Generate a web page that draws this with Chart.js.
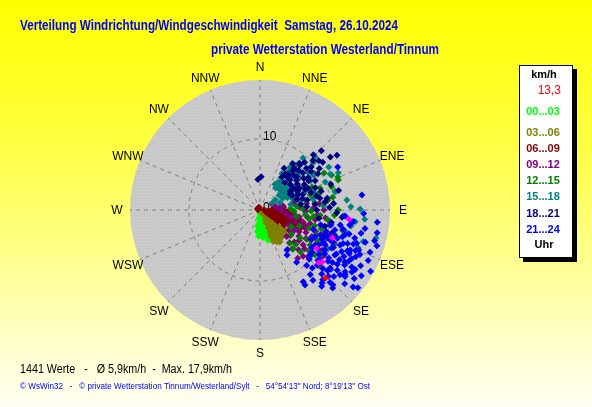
<!DOCTYPE html>
<html>
<head>
<meta charset="utf-8">
<title>Windrichtung</title>
<script src="https://cdn.jsdelivr.net/npm/chart.js@4.4.1/dist/chart.umd.min.js"></script>
<style>
  body { margin: 0; background: #fffff4; }
  canvas { display: block; }
</style>
</head>
<body>
<canvas id="myChart" width="592" height="407"></canvas>
<script>
// compass and scale
const directions = ['N', 'NNE', 'NE', 'ENE', 'E', 'ESE', 'SE', 'SSE', 'S', 'SSW', 'SW', 'WSW', 'W', 'WNW', 'NW', 'NNW'];
const ringValues = [0, 10];
const maxSpeed = 18.3;

const titleText = 'Verteilung Windrichtung/Windgeschwindigkeit  Samstag, 26.10.2024';
const stationText = 'private Wetterstation Westerland/Tinnum';
const footerText = '1441 Werte   -   \u00d8 5,9km/h  -  Max. 17,9km/h';
const copyText = '\u00a9 WsWin32   -   \u00a9 private Wetterstation Tinnum/Westerland/Sylt   -   54\u00b054\'13" Nord; 8\u00b019\'13" Ost';

const timeLabels = ['00...03', '03...06', '06...09', '09...12', '12...15', '15...18', '18...21', '21...24'];
const seriesColors = ['#00ff00', '#808000', '#800000', '#800080', '#008000', '#008080', '#000080', '#0000ff'];

// [richtung in grad, km/h]
const h00 = [[178,0.4],[176,0.9],[181,1.3],[184,1.7],[179,2.1],[186,2.4],[182,2.8],[185,3.1],[180,3.4],[183,3.7],
  [177,3.2],[175,2.6],[172,1.9],[170,2.7],[168,3.3],[166,3.8],[164,4.1],[161,4.4],[158,4.6],[160,4.0],
  [163,3.5],[167,2.9],[169,2.2],[173,1.4],[171,3.6],[165,4.4],[159,4.2],[174,3.9],[187,3.0],[188,2.2],
  [185,1.1],[162,3.0],[157,4.5],[176,0.5],[170,1.0],[160,3.7],[180,0.6],[183,2.0],[178,2.5],[176,3.5]];
const h03 = [[150,0.4],[145,0.8],[140,1.2],[136,1.5],[152,1.6],[148,2.0],[143,2.3],[138,2.6],[132,2.9],[155,2.7],
  [150,3.0],[146,3.3],[141,3.6],[135,3.9],[130,4.1],[128,4.6],[133,4.8],[137,4.4],[142,4.9],[146,5.0],
  [150,4.7],[154,4.5],[157,4.2],[153,3.8],[156,3.4],[158,3.9],[149,4.1],[144,4.3],[139,3.2],[134,3.4],
  [131,3.7],[129,4.3],[147,2.6],[151,2.2],[155,2.0],[142,1.8],[137,2.0],[145,3.9],[140,4.6],[135,5.0],
  [152,5.1],[148,5.3],[157,4.8],[144,0.5],[133,1.1]];
const h06 = [[320,0.3],[300,0.4],[340,0.4],[280,0.3],[90,0.6],[100,0.8],[110,0.9],[95,1.2],[105,1.4],[115,1.3],
  [88,1.7],[98,1.9],[108,2.0],[118,1.8],[92,2.3],[102,2.5],[112,2.6],[121,2.4],[86,2.8],[96,3.0],
  [106,3.1],[116,3.2],[123,3.0],[90,3.4],[100,3.6],[110,3.7],[120,3.8],[94,3.9],[104,4.1],[114,4.3],
  [122,4.0],[98,4.5],[108,4.7],[117,4.8],[102,5.0],[111,5.2],[106,5.5],[113,5.8],[108,6.1],[110,6.5],
  [112,6.9],[106,6.3],[115,6.2],[109,7.0],[104,5.8],[118,5.3],[82,2.9],[84,3.3]];
const h09 = [[65,1.9],[75,2.2],[85,2.6],[70,3.0],[80,3.3],[92,3.1],[98,3.8],[104,4.4],[96,4.8],[108,5.2],
  [100,5.6],[112,5.9],[118,4.6],[125,5.0],[130,5.6],[135,5.3],[138,6.2],[133,6.6],[128,7.0],[140,7.1],
  [136,7.8],[131,8.3],[137,8.9],[134,9.4],[127,9.0],[122,7.6],[116,7.2],[110,6.8],[105,7.3],[100,7.9],
  [95,8.1],[88,7.5],[84,8.4],[90,9.0],[97,9.3],[104,8.8],[110,9.6],[113,10.2],[108,10.8],[118,9.9],
  [123,10.4],[120,8.4],[126,11.0],[114,11.4],[102,10.0],[92,6.4],[86,5.6],[78,4.8],[72,5.2],[82,6.6],
  [145,6.8],[142,8.6],[119,6.3],[124,6.6],[101,4.6],[115,6.0],[121,5.6],[106,6.2],[99,6.8],[129,7.8],
  [117,8.2],[111,8.4]];
const h12 = [[58,8.0],[62,7.2],[66,8.0],[70,9.0],[67,11.9],[69,11.8],[64,11.2],[72,10.6],[76,10.9],[80,10.4],
  [75,8.4],[78,6.6],[84,5.2],[88,6.0],[92,4.8],[96,6.4],[100,7.0],[95,8.5],[102,10.1],[98,9.6],
  [106,8.0],[110,7.4],[114,8.6],[118,9.2],[122,7.8],[125,6.9],[125,8.6],[129,10.0],[133,11.7],[130,9.0],
  [136,8.2],[138,6.3],[134,7.0],[120,10.8],[115,11.5],[108,11.0],[104,12.0],[86,8.9],[82,9.6],[60,10.4],
  [56,9.2],[73,7.4],[90,11.0],[112,6.0],[128,5.6],[140,7.2],[132,9.6],[100,5.2],[94,10.5],[118,5.0],
  [87,4.3],[97,7.6],[107,9.0],[113,9.8],[121,9.6],[126,10.6],[91,7.2],[83,7.8]];
const h15 = [[30,4.2],[35,3.8],[38,5.0],[42,4.4],[45,5.6],[40,6.2],[33,5.4],[48,4.0],[52,3.4],[56,2.6],
  [60,2.0],[50,5.0],[55,4.6],[62,3.6],[66,4.2],[58,5.8],[47,6.8],[43,7.5],[37,6.9],[39.6,9.5],
  [41,8.4],[48.4,10.0],[46,10.8],[62.8,11.1],[64.6,12.2],[66.7,10.0],[76.5,10.9],[83.4,12.3],[89.4,14.1],[97,13.5],
  [100,13.0],[103.6,16.8],[111,14.8],[107,15.2],[94,11.8],[86,9.0],[72,8.0],[68,6.8],[75,5.6],[80,4.4],
  [70,3.0],[54,7.6],[57,9.0],[52,8.6],[60,8.2],[95,14.8],[115,13.6],[120,11.0],[104,12.4],[58,11.4],
  [36,4.8],[64,7.2],[78,7.6],[88,12.8],[33,4.6],[39,4.0],[44,5.2],[49,4.6],[53,5.4],[57,4.2],
  [61,5.0],[46,7.6],[51,7.2],[35,7.4],[42,6.6],[66,5.8],[70,4.8],[31,6.0],[38,8.0]];
const h18 = [[34,5.6],[38,6.4],[42,5.2],[45,6.0],[48,7.0],[50,5.6],[55,6.4],[58,5.0],[60,7.2],
  [63,6.0],[66,5.0],[70,6.4],[74,5.4],[78,6.8],[82,5.8],[86,6.6],[44,7.8],[40,8.6],[41.6,8.5],
  [44,10.8],[47,10.2],[52.7,11.1],[54.5,13.3],[50,9.4],[56,8.2],[62,8.8],[68,8.4],[73,9.0],[80,9.6],
  [85,10.4],[88,9.8],[95,11.6],[92,10.8],[100,10.2],[104,9.4],[98,8.4],[76,11.4],[70,10.6],
  [62,4.8],[40,7.2],[58,9.6],[84,7.8],[90,8.0],[108,10.6],
  [112,9.8],[2,4.7],[356,4.3],[30,6.8],[35,8.0],[48,8.8],[66,7.4],[76,8.2],[53,12.4],[46,12.0],
  [41,6.0],[44,6.8],[51,6.6],[54,7.6],[57,5.6],[61,6.4],[65,7.0],[68,5.8],
  [71,7.6],[39,7.6],[43,9.2],[49,8.0],[53,9.0],[59,8.0],[35,6.2],[60,5.8],
  [75,6.2],[79,8.6],[83,9.2],[55,10.2],[50,10.8]];
const h21 = [[96,16.6],[101,16.8],[105,16.7],[107,17.2],[111,16.6],[119,17.8],[128.5,17.6],[129.6,17.0],[128,15.2],[135.8,14.7],
  [139.6,13.5],[141,13.8],[149,11.8],[149,12.3],[146,6.8],[149,7.4],[138,11.0],[121.8,15.2],[81.6,14.5],[61,12.5],
  [112.6,9.2],[113,10.7],[113.6,12.3],[114,13.9],[114,15.4],[121.6,10.7],[121,12.3],[121.5,14.0],[122,15.8],[129.8,11.0],
  [129.6,12.8],[129,14.5],[105,10.9],[106,12.5],[106.4,13.9],[107,15.5],[122.5,9.2],[132,9.5],[100.6,11.5],[99.5,12.8],
  [108,9.8],[110,11.6],[111,13.2],[117,10.0],[118,11.4],[117,12.9],[118,14.6],[119,16.2],[125,11.8],[125,13.3],
  [126,14.8],[126,16.4],[133,12.1],[134,13.4],[132,14.0],[136,12.5],[102,10.2],[103,14.6],[109,14.4],[115,16.8],
  [124,9.8],[127,10.4],[131,10.8],[116,8.6],[120,8.2],[110,8.0],[104,8.8],[135,9.8],[140,10.2],[143,12.4],
  [145,9.0],[97,13.2],[100,15.0],[112,15.0],[123,17.0],[131,15.8],[137,15.0],[94,12.0],[92,14.6],[119,13.5],
  [114,11.2],[127,12.0],[108,12.2],[116,15.0],[134,11.2],[129,9.4],[123,14.2],[109,11.0],[112,12.6],[115,13.6],
  [117,11.6],[120,12.4],[122,13.2],[124,11.0],[126,12.6],[128,13.8],[130,13.0],[132,12.8],[120,14.4],[124,15.6],
  [116,14.0],[113,14.6],[110,14.0],[105,13.0],[103,12.0],[121,9.6],[126,9.0],[118,10.4],[111,10.2],[115,9.6],
  [138,13.2],[136,14.2],[142,11.5],[127,15.0]];
const gusts = [[96,12.6],[111,10.9],[124,9.6],[132,11.1],[130,11.4]];
const currentValue = [[136,13.3]];

const series = [h00, h03, h06, h09, h12, h15, h18, h21];

const toXY = (pairs) => pairs.map(p => ({
  x: p[1] * Math.sin(p[0] * Math.PI / 180),
  y: p[1] * Math.cos(p[0] * Math.PI / 180)
}));

const dotPattern = (ctx) => {
  const c = document.createElement('canvas');
  c.width = 3; c.height = 3;
  const pc = c.getContext('2d');
  pc.fillStyle = '#c8c8c8';
  pc.fillRect(0, 0, 3, 3);
  pc.fillStyle = '#d4d4d4';
  pc.fillRect(1, 1, 1, 1);
  return ctx.createPattern(c, 'repeat');
};

const windRose = {
  id: 'windRose',
  beforeDraw: (chart) => {
    const ctx = chart.ctx;
    const g = ctx.createLinearGradient(0, 0, 0, chart.height);
    g.addColorStop(0, '#ffff00');
    g.addColorStop(0.35, '#ffff40');
    g.addColorStop(1, '#fffff4');
    ctx.save();
    ctx.fillStyle = g;
    ctx.fillRect(0, 0, chart.width, chart.height);
    ctx.restore();
  },
  beforeDatasetsDraw: (chart) => {
    const ctx = chart.ctx;
    const xs = chart.scales.x;
    const ys = chart.scales.y;
    const cx = xs.getPixelForValue(0);
    const cy = ys.getPixelForValue(0);
    const px = (v) => xs.getPixelForValue(v) - cx;
    const r = px(maxSpeed);

    ctx.save();
    ctx.beginPath();
    ctx.arc(cx, cy, r, 0, 2 * Math.PI);
    ctx.fillStyle = dotPattern(ctx);
    ctx.fill();

    ctx.strokeStyle = '#808080';
    ctx.lineWidth = 1;
    ctx.setLineDash([4, 4]);
    directions.forEach((d, i) => {
      const a = i * 22.5 * Math.PI / 180;
      ctx.beginPath();
      ctx.moveTo(cx, cy);
      ctx.lineTo(cx + r * Math.sin(a), cy - r * Math.cos(a));
      ctx.stroke();
    });
    ringValues.forEach(v => {
      if (v > 0) {
        ctx.beginPath();
        ctx.arc(cx, cy, px(v), 0, 2 * Math.PI);
        ctx.stroke();
      }
    });
    ctx.setLineDash([]);

    ctx.fillStyle = '#000';
    ctx.font = '12px Arial';
    ctx.textBaseline = 'middle';
    ctx.textAlign = 'left';
    ringValues.forEach(v => ctx.fillText(String(v), cx + 3, cy - px(v) - 2));

    ctx.textAlign = 'center';
    directions.forEach((d, i) => {
      const a = i * 22.5 * Math.PI / 180;
      ctx.fillText(d, cx + (r + 13) * Math.sin(a), cy - (r + 13) * Math.cos(a) + 1);
    });
    ctx.restore();
  },
  afterDraw: (chart) => {
    const ctx = chart.ctx;
    ctx.save();
    ctx.textBaseline = 'middle';
    ctx.textAlign = 'left';
    ctx.fillStyle = '#0000ff';
    ctx.font = 'bold 14px Arial';
    ctx.fillText(titleText, 20, 26, 378);
    ctx.fillText(stationText, 211, 50, 228);

    ctx.fillStyle = '#000';
    ctx.font = '12px Arial';
    ctx.fillText(footerText, 20, 370, 212);
    ctx.fillStyle = '#0000ff';
    ctx.font = '9px Arial';
    ctx.fillText(copyText, 20, 387, 350);

    // legende
    ctx.fillStyle = '#000';
    ctx.fillRect(523, 69, 54, 193);
    ctx.fillStyle = '#fff';
    ctx.fillRect(519, 65, 54, 193);
    ctx.strokeStyle = '#000';
    ctx.lineWidth = 1;
    ctx.strokeRect(519.5, 65.5, 53, 192);

    ctx.textAlign = 'center';
    ctx.fillStyle = '#000';
    ctx.font = 'bold 11px Arial';
    ctx.fillText('km/h', 544, 75);
    ctx.textAlign = 'right';
    ctx.fillStyle = '#ff0000';
    ctx.font = '12px Arial';
    ctx.fillText(currentValue[0][1].toFixed(1).replace('.', ','), 561, 91);
    ctx.textAlign = 'center';
    ctx.font = 'bold 11px Arial';
    timeLabels.forEach((t, i) => {
      ctx.fillStyle = seriesColors[i];
      const y = i === 0 ? 112 : 133 + (i - 1) * 16.1;
      ctx.fillText(t, 543, y, 34);
    });
    ctx.fillStyle = '#000';
    ctx.fillText('Uhr', 544, 245);
    ctx.restore();
  }
};

const datasets = series.map((s, i) => ({
  label: timeLabels[i],
  data: toXY(s),
  backgroundColor: seriesColors[i],
  borderWidth: 0,
  pointStyle: 'rectRot',
  pointRadius: 3.5,
  order: series.length - i + 1
}));
datasets.push({ label: 'magenta', data: toXY(gusts), backgroundColor: '#ff00ff', borderWidth: 0, pointStyle: 'rectRot', pointRadius: 3.5, order: 1 });
datasets.push({ label: 'aktuell', data: toXY(currentValue), backgroundColor: '#ff0000', borderWidth: 0, pointStyle: 'rectRot', pointRadius: 3.5, order: 0 });

const ctx = document.getElementById('myChart');
new Chart(ctx, {
  type: 'scatter',
  data: { datasets: datasets },
  options: {
    responsive: false,
    animation: false,
    devicePixelRatio: 1,
    layout: { padding: { left: 130, top: 80, right: 202, bottom: 67 } },
    plugins: { legend: { display: false }, tooltip: { enabled: false } },
    scales: {
      x: { type: 'linear', min: -maxSpeed, max: maxSpeed, display: false },
      y: { type: 'linear', min: -maxSpeed, max: maxSpeed, display: false }
    }
  },
  plugins: [windRose]
});
</script>
</body>
</html>
